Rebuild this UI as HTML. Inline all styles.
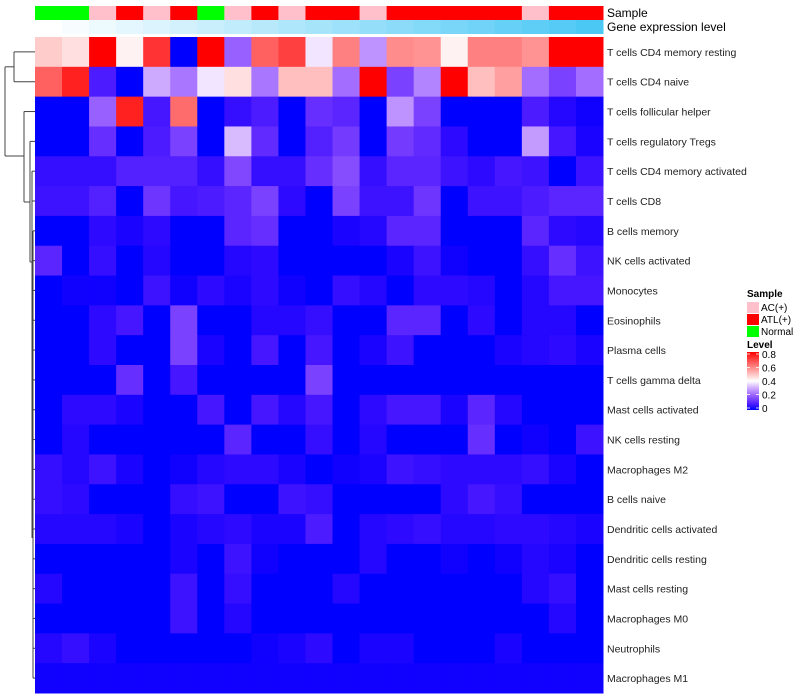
<!DOCTYPE html>
<html><head><meta charset="utf-8"><style>
body{margin:0;background:#fff;}
svg{display:block;font-family:"Liberation Sans",sans-serif;}
</style></head><body>
<svg id="chart" width="800" height="700" viewBox="0 0 800 700" xmlns="http://www.w3.org/2000/svg">
<g id="dendro" stroke="#444" stroke-width="1" fill="none"></g>
<g id="anno"></g>
<g id="cells"></g>
<g id="labels"></g>
<g id="legend"></g>
</svg>
<script>
const rowNames=["T cells CD4 memory resting","T cells CD4 naive","T cells follicular helper","T cells regulatory  Tregs","T cells CD4 memory activated","T cells CD8","B cells memory","NK cells activated","Monocytes","Eosinophils","Plasma cells","T cells gamma delta","Mast cells activated","NK cells resting","Macrophages M2","B cells naive","Dendritic cells activated","Dendritic cells resting","Mast cells resting","Macrophages M0","Neutrophils","Macrophages M1"];
const sampleGroups=["Normal","Normal","AC(+)","ATL(+)","AC(+)","ATL(+)","Normal","AC(+)","ATL(+)","AC(+)","ATL(+)","ATL(+)","AC(+)","ATL(+)","ATL(+)","ATL(+)","ATL(+)","ATL(+)","AC(+)","ATL(+)","ATL(+)"];
const expressionLevel=[0,1,2,3,4,5,6,7,8,9,10,11,12,13,14,15,16,17,18,19,20];
const values=[
[0.48,0.45,0.8,0.42,0.72,0,0.8,0.2,0.65,0.7,0.37,0.6,0.27,0.58,0.57,0.42,0.6,0.6,0.57,0.8,0.8],
[0.65,0.75,0.08,0,0.3,0.23,0.37,0.45,0.23,0.5,0.5,0.22,0.8,0.15,0.25,0.8,0.5,0.55,0.22,0.15,0.22],
[0,0,0.2,0.75,0.07,0.63,0,0.05,0.08,0,0.12,0.1,0,0.27,0.15,0,0,0,0.08,0.03,0.01],
[0,0,0.12,0,0.08,0.15,0,0.32,0.11,0,0.09,0.14,0,0.14,0.11,0.04,0,0,0.28,0.07,0.02],
[0.05,0.05,0.05,0.09,0.09,0.09,0.05,0.16,0.05,0.05,0.12,0.17,0.05,0.1,0.1,0.06,0.04,0.07,0.06,0,0.06],
[0.06,0.06,0.09,0,0.13,0.07,0.08,0.1,0.15,0.04,0,0.15,0.06,0.06,0.13,0,0.06,0.06,0.08,0.1,0.1],
[0,0,0.04,0.02,0.04,0,0,0.1,0.12,0,0,0.02,0.03,0.1,0.1,0,0,0,0.1,0.04,0.03],
[0.1,0,0.05,0,0.03,0,0,0.03,0.04,0,0,0,0,0.02,0.06,0.01,0,0,0.05,0.12,0.06],
[0,0.01,0.01,0,0.06,0.01,0.04,0.02,0.04,0.01,0,0.05,0.03,0,0.04,0.04,0.03,0,0.03,0.07,0.07],
[0,0,0.04,0.07,0,0.15,0,0,0.03,0.03,0.05,0,0,0.1,0.1,0,0.04,0,0.03,0.03,0],
[0,0,0.04,0,0,0.15,0.02,0,0.07,0,0.07,0,0.02,0.06,0,0,0,0.02,0.03,0.04,0.02],
[0,0,0,0.12,0,0.07,0,0,0,0,0.15,0,0,0,0,0,0,0,0,0,0],
[0,0.04,0.04,0.02,0,0,0.07,0,0.07,0.03,0.07,0,0.04,0.07,0.07,0.02,0.1,0.03,0,0,0],
[0,0.03,0,0,0,0,0,0.1,0,0,0.05,0,0.03,0,0,0,0.12,0,0.01,0,0.06],
[0.05,0.03,0.06,0.02,0,0.01,0.03,0.04,0.04,0.02,0,0.01,0.02,0.06,0.05,0.04,0.04,0.04,0.05,0.02,0],
[0.05,0.04,0,0,0,0.05,0.06,0,0,0.06,0.05,0,0,0,0,0.04,0.07,0.05,0,0,0],
[0.03,0.03,0.03,0.02,0,0.02,0.03,0.04,0.02,0.02,0.08,0,0.03,0.04,0.05,0.03,0.03,0.04,0.04,0.03,0.02],
[0,0,0,0,0,0.02,0,0.06,0.01,0,0,0,0.03,0,0,0.01,0,0.01,0.03,0.02,0],
[0.03,0,0,0,0,0.06,0,0.05,0,0,0,0.03,0,0,0,0,0,0,0.03,0.05,0],
[0,0,0,0,0,0.06,0,0.03,0,0,0,0,0,0,0,0,0,0,0,0.03,0],
[0.03,0.05,0.02,0,0,0,0,0,0.01,0.02,0.04,0,0.02,0.02,0,0,0,0.02,0,0,0],
[0.01,0.01,0.01,0.01,0.01,0.01,0.01,0.01,0.01,0.01,0.01,0.01,0.01,0.01,0.01,0.01,0.01,0.01,0.01,0.01,0.01]
];
const legendTicks=[0,0.2,0.4,0.6,0.8];
const groupColors={"AC(+)":"#ffc0cb","ATL(+)":"#ff0000","Normal":"#00ff00"};

const NS="http://www.w3.org/2000/svg";
const X0=35,X1=603,Y0=37,Y1=693;
const nC=values[0].length,nR=values.length;
const cw=(X1-X0)/nC,rh=(Y1-Y0)/nR;
const xPos=i=>X0+i*cw, yPos=j=>Y0+j*rh;
function lerp(a,b,t){return Math.round(a+(b-a)*t);}
function col(v){
  const w=0.4;
  if(v<=w){const t=Math.max(0,v)/w;return `rgb(${lerp(0,255,Math.pow(t,0.75))},${lerp(0,255,Math.pow(t,1.4))},255)`;}
  const t=Math.min(1,(v-w)/0.4);return `rgb(255,${lerp(255,0,t)},${lerp(255,0,t)})`;
}
function mk(tag,attrs,parent){const e=document.createElementNS(NS,tag);for(const k in attrs)e.setAttribute(k,attrs[k]);parent.appendChild(e);return e;}
const cells=document.getElementById('cells');
values.forEach((row,j)=>row.forEach((v,i)=>{
  const r=mk('rect',{x:xPos(i),y:yPos(j),width:cw+0.5,height:rh+0.5,fill:col(v)},cells);
  
  
}));
const anno=document.getElementById('anno');
sampleGroups.forEach((g,i)=>{
  const r=mk('rect',{x:xPos(i),y:6,width:cw+0.5,height:14,fill:groupColors[g]},anno);
  
  
});
const maxE=Math.max(...expressionLevel);
expressionLevel.forEach((e,i)=>{
  const t=e/maxE;
  const r=mk('rect',{x:xPos(i),y:20,width:cw+0.5,height:14,fill:`rgb(${lerp(255,76,t)},${lerp(255,200,t)},${lerp(255,245,t)})`},anno);
  
  
});
const labs=document.getElementById('labels');
let t=mk('text',{x:607,y:17,'font-size':12,fill:'#000'},labs);t.textContent='Sample';


t=mk('text',{x:607,y:31,'font-size':12,fill:'#000'},labs);t.textContent='Gene expression level';


rowNames.forEach((n,j)=>{
  const e=mk('text',{x:607,y:yPos(j)+rh/2+4,'font-size':10.5,fill:'#222'},labs);
  e.textContent=n;
  
  
});
const d=document.getElementById('dendro');
const cy=j=>yPos(j)+rh/2;
const lines=[
 [14,cy(0),35,cy(0)],[14,cy(1),35,cy(1)],[14,cy(0),14,cy(1)],
 [5,(cy(0)+cy(1))/2,14,(cy(0)+cy(1))/2],
 [5,(cy(0)+cy(1))/2,5,156],[5,156,24,156],
 [24,cy(2),35,cy(2)],[24,cy(2),24,202],
 [24,202,30,202],[30,cy(3),35,cy(3)],[30,cy(3),30,262],
 [30,262,32,262],[32,cy(4),35,cy(4)],[32,cy(4),32,538],
 [32,cy(5),35,cy(5)],[33,cy(6),35,cy(6)],[33,cy(7),35,cy(7)],[33,cy(6),33,cy(21)],
];
for(let j=8;j<22;j++)lines.push([33,cy(j),35,cy(j)]);
lines.forEach(l=>{
  const e=mk('line',{x1:l[0],y1:l[1],x2:l[2],y2:l[3]},d);
  
  
});
const lg=document.getElementById('legend');
t=mk('text',{x:747,y:297,'font-size':10,'font-weight':'bold',fill:'#000'},lg);t.textContent='Sample';


Object.keys(groupColors).forEach((g,k)=>{
  const r=mk('rect',{x:747,y:302+k*12,width:12,height:11,fill:groupColors[g]},lg);
  
  
  const tx=mk('text',{x:761,y:311+k*12,'font-size':10,fill:'#000'},lg);tx.textContent=g;
  
  
});
t=mk('text',{x:747,y:348,'font-size':10,'font-weight':'bold',fill:'#000'},lg);t.textContent='Level';


const defs=mk('defs',{},lg);
const gr=mk('linearGradient',{id:'lv',x1:0,y1:1,x2:0,y2:0},defs);
[0,0.1,0.2,0.3,0.4,0.5,0.6,0.7,0.8].forEach(v=>mk('stop',{offset:v/0.8,'stop-color':col(v)},gr));
const LB0=408,LB1=354;
const cb=mk('rect',{x:747,y:LB1-2,width:12,height:LB0-LB1+4,fill:'url(#lv)'},lg);


legendTicks.forEach(v=>{
  const y=LB0-(v/0.8)*(LB0-LB1);
  mk('line',{x1:747,x2:750,y1:y,y2:y,stroke:'#fff','stroke-width':0.8},lg);
  mk('line',{x1:756,x2:759,y1:y,y2:y,stroke:'#fff','stroke-width':0.8},lg);
  const tx=mk('text',{x:762,y:y+4,'font-size':10,fill:'#000'},lg);tx.textContent=String(v);
  
  
});
</script>
</body></html>
